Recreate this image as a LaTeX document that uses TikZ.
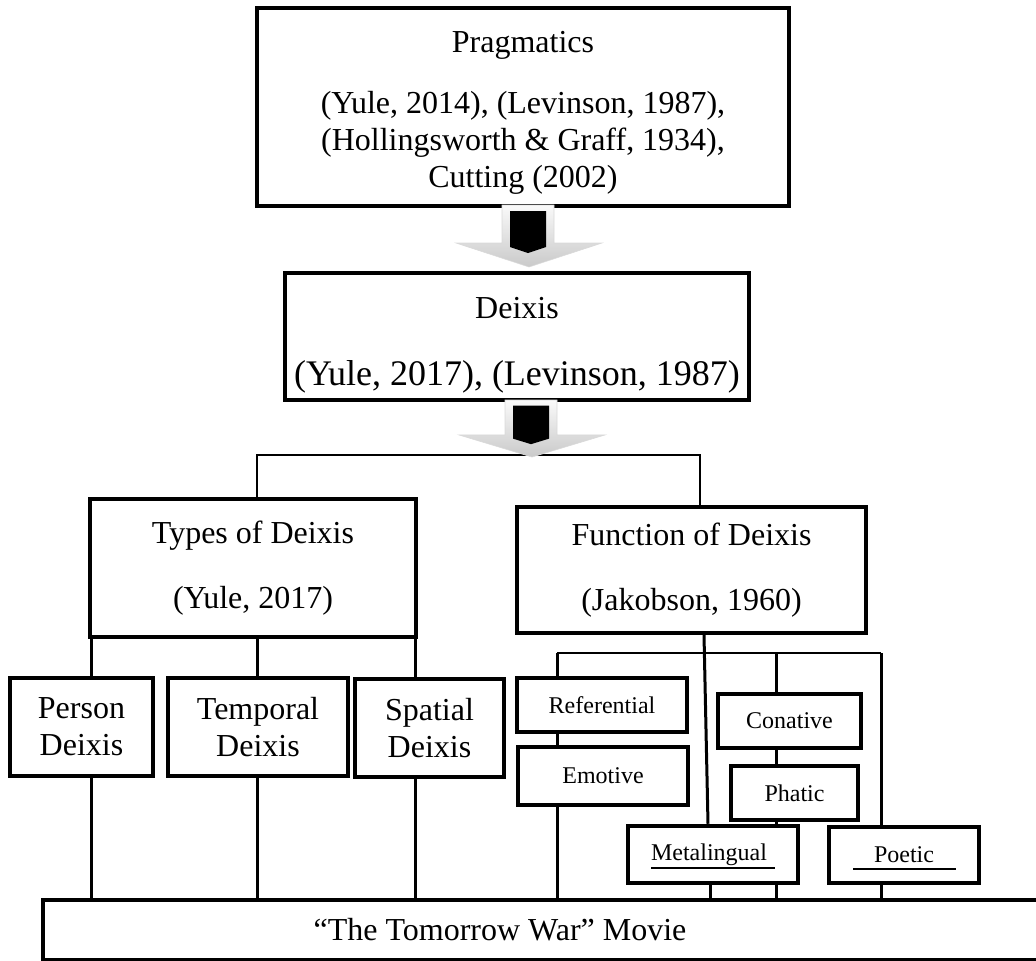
\documentclass[tikz,border=0pt]{standalone}
\usepackage{fontspec}
\setmainfont{Liberation Serif}
\usetikzlibrary{calc}
\newcommand\fbig{\fontsize{32}{37}\selectfont}
\newcommand\fsmall{\fontsize{24}{28}\selectfont}
\begin{document}
\begin{tikzpicture}[x=1pt,y=-1pt,
  box/.style={draw, line width=4pt, fill=white, inner sep=0pt, align=center, font=\fbig},
  sbox/.style={draw, line width=4.5pt, fill=white, inner sep=0pt, font=\fsmall},
  conn/.style={line width=3pt},
  thinconn/.style={line width=2.4pt},
  uline/.style={line width=1.3pt},
  blockarr/.pic={
    \shade[top color=gray!4, bottom color=gray!42, draw=gray!30, line width=0.6pt]
      (-26,0) -- (26,0) -- (26,38) -- (74,38) -- (1,62) -- (-72,38) -- (-26,38) -- cycle;
    \fill[black] (-18,6) -- (18,6) -- (18,42) -- (0,48) -- (-18,42) -- cycle;
  }]
\path[use as bounding box] (0,0) rectangle (1036,961);
\clip (0,0) rectangle (1036,961);

% main boxes
\node[box, minimum width=532, minimum height=198] (prag) at (523,107)
  {\rule{0pt}{32pt}Pragmatics\\[24pt](Yule, 2014), (Levinson, 1987),\\(Hollingsworth \& Graff, 1934),\\Cutting (2002)};
\node[box, minimum width=464, minimum height=127, font=\fontsize{36}{41}\selectfont] (deixis) at (517,336.5)
  {{\fbig\rule{0pt}{38pt}Deixis}\\[26pt](Yule, 2017), (Levinson, 1987)};
\node[box, minimum width=326, minimum height=138] (types) at (253,568)
  {Types of Deixis\\[28pt](Yule, 2017)};
\node[box, minimum width=349, minimum height=126] (func) at (691.5,570)
  {Function of Deixis\\[28pt](Jakobson, 1960)};

% types children
\node[box, minimum width=143, minimum height=98] (person) at (81.5,727) {Person\\Deixis};
\node[box, minimum width=180, minimum height=98] (temporal) at (258,727) {Temporal\\Deixis};
\node[box, minimum width=149, minimum height=98] (spatial) at (429.5,728) {Spatial\\Deixis};

% function children
\node[sbox, minimum width=170, minimum height=54] (ref) at (602,705) {Referential};
\node[sbox, minimum width=170, minimum height=58] (emot) at (603,776) {Emotive};
\node[sbox, minimum width=143, minimum height=54] (conat) at (789.5,721) {Conative};
\node[sbox, minimum width=127, minimum height=54] (phatic) at (794.5,793) {Phatic};
\node[sbox, minimum width=170, minimum height=57] (meta) at (713,854.5) {Metalingual\kern8pt};
\node[sbox, minimum width=150, minimum height=56] (poetic) at (904,855) {Poetic};

% movie box
\node[font=\fbig, minimum width=914, minimum height=60, inner sep=0pt] (movie) at (500,930)
  {“The Tomorrow War” Movie};
\draw[line width=4pt] (movie.north west) rectangle ([xshift=200pt]movie.south east);

% underlines
\draw[uline] ([xshift=-62pt,yshift=-13.5pt]meta.center) -- ([xshift=62pt,yshift=-13.5pt]meta.center);
\draw[uline] ([xshift=-51pt,yshift=-14pt]poetic.center) -- ([xshift=52pt,yshift=-14pt]poetic.center);

% split below deixis
\coordinate (sl) at (257,455);
\coordinate (sr) at (700,455);
\draw[thinconn] (sl |- types.north) -- (sl) -- (sr) -- (sr |- func.north);

% types connectors
\coordinate (t1) at (91,0);
\coordinate (t2) at (257,0);
\coordinate (t3) at (415,0);
\draw[conn] (t1 |- types.south) -- (t1 |- person.north);
\draw[conn] (t2 |- types.south) -- (t2 |- temporal.north);
\draw[conn] (t3 |- types.south) -- (t3 |- spatial.north);
\draw[conn] (t1 |- person.south) -- (t1 |- movie.north);
\draw[conn] (t2 |- temporal.south) -- (t2 |- movie.north);
\draw[conn] (t3 |- spatial.south) -- (t3 |- movie.north);

% function connectors
\coordinate (f0) at (704,0);
\coordinate (fa) at (557,653);
\coordinate (fb) at (776,653);
\coordinate (fc) at (881,653);
\draw[conn] (f0 |- func.south) -- ([xshift=-5pt]meta.north);
\draw[conn] ([xshift=-3pt]meta.south) -- ([xshift=-3pt]meta.south |- movie.north);
\draw[thinconn] (fa) -- (fc);
\draw[conn] (fa) -- (fa |- ref.north);
\draw[conn] (fa |- ref.south) -- (fa |- emot.north);
\draw[conn] (fa |- emot.south) -- (fa |- movie.north);
\draw[conn] (fb) -- (fb |- conat.north);
\draw[conn] (fb |- conat.south) -- (fb |- phatic.north);
\draw[conn] (fb |- phatic.south) -- (fb |- meta.north);
\draw[conn] (fb |- meta.south) -- (fb |- movie.north);
\draw[conn] (fc) -- (fc |- poetic.north);
\draw[conn] (fc |- poetic.south) -- (fc |- movie.north);

% block arrows
\pic at (528,205) {blockarr};
\pic[yscale=0.92] at (531,400) {blockarr};
\end{tikzpicture}
\end{document}
